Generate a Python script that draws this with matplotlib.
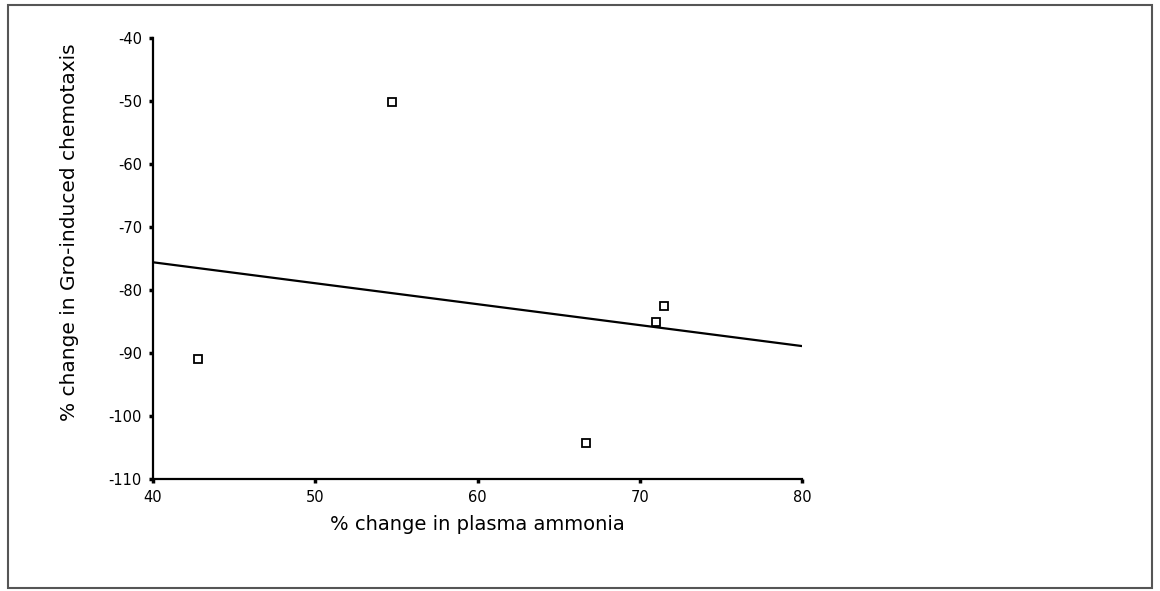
import matplotlib
matplotlib.use("Agg")
import matplotlib.pyplot as plt
from matplotlib.patches import Rectangle

# data
ammonia = [42.8, 54.7, 66.7, 71.0, 71.5]
chemotaxis = [-91.0, -50.2, -104.3, -85.0, -82.6]
fit_x = [40, 80]
fit_y = [-75.6, -88.9]

x_ticks = [40, 50, 60, 70, 80]
y_ticks = [-40, -50, -60, -70, -80, -90, -100, -110]

plt.rcParams["font.family"] = ["DejaVu Sans"]

fig = plt.figure(figsize=(11.6, 5.91), dpi=100)
fig.patches.append(Rectangle((8 / 1160, 3 / 591), 1144 / 1160, 583 / 591,
                             transform=fig.transFigure, fill=False,
                             edgecolor="#555555", linewidth=1.5))

ax = fig.add_axes([153 / 1160, 1 - 479 / 591, 649 / 1160, 441 / 591])
ax.plot(fit_x, fit_y, color="black", linewidth=1.6)
ax.plot(ammonia, chemotaxis, linestyle="none", marker="s", markersize=6,
        markerfacecolor="white", markeredgecolor="black", markeredgewidth=1.3)

ax.set_xlim(40, 80)
ax.set_ylim(-110, -40)
ax.set_xticks(x_ticks)
ax.set_yticks(y_ticks)
ax.set_yticklabels([f"-{abs(v)}" for v in y_ticks])

for side in ("top", "right"):
    ax.spines[side].set_visible(False)
for side in ("left", "bottom"):
    ax.spines[side].set_linewidth(1.6)

ax.tick_params(direction="out", length=3, width=2.5, labelsize=10.5, pad=5)

fig.text(70 / 1160, 1 - 232 / 591, "% change in Gro-induced chemotaxis",
         rotation=90, ha="center", va="center", fontsize=14.5)
fig.text(477 / 1160, 1 - 525 / 591, "% change in plasma ammonia",
         ha="center", va="center", fontsize=14)

fig.savefig("out.png", dpi=100)
